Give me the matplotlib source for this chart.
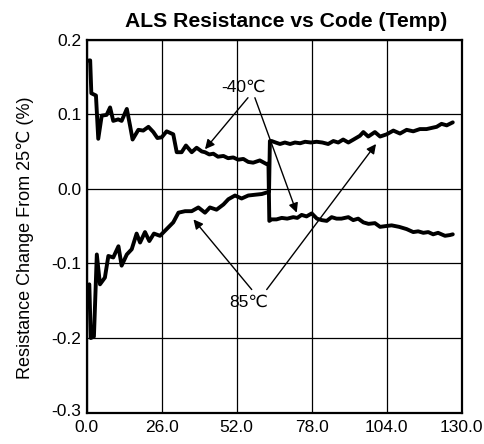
import matplotlib
matplotlib.use("Agg")
import matplotlib.pyplot as plt
import matplotlib.transforms as mtransforms

plt.rcParams['font.family'] = ['Liberation Sans', 'DejaVu Sans']

# -40C curve (top on left, bottom on right after x~63)
cold_x = [0.8, 1.2, 1.6, 3.2, 4.0, 5.2, 6.9, 8.1, 9.2, 10.9, 12.1, 13.9, 15.0, 15.9,
          17.9, 19.6, 21.4, 23.1, 24.5, 26.0, 27.7, 30.0, 31.2, 32.9, 34.4, 36.4, 38.1,
          39.9, 41.0, 42.5, 43.9, 45.5, 47.4, 49.0, 50.8, 52.5, 54.3, 56.0, 57.7, 60.0,
          62.4, 63.0, 63.3,
          64.1, 65.8, 67.6, 69.5, 71.6, 73.0, 74.5, 76.2, 78.0, 79.8, 81.5, 83.2, 84.9,
          86.6, 88.3, 90.7, 92.4, 94.1, 95.9, 97.7, 99.9, 101.7, 103.6, 105.7, 108.3,
          110.9, 113.2, 114.9, 116.7, 118.4, 120.1, 121.8, 124.2, 125.9, 126.9]
cold_y = [0.172, 0.172, 0.128, 0.125, 0.067, 0.098, 0.099, 0.109, 0.091, 0.093, 0.091,
          0.107, 0.085, 0.066, 0.079, 0.078, 0.083, 0.076, 0.068, 0.069, 0.077, 0.073,
          0.049, 0.049, 0.058, 0.049, 0.055, 0.050, 0.049, 0.046, 0.047, 0.043, 0.044,
          0.041, 0.042, 0.039, 0.040, 0.036, 0.035, 0.038, 0.033, 0.034, -0.043,
          -0.041, -0.041, -0.039, -0.040, -0.038, -0.039, -0.035, -0.037, -0.033, -0.040,
          -0.042, -0.043, -0.038, -0.040, -0.040, -0.038, -0.042, -0.040, -0.045, -0.047,
          -0.046, -0.051, -0.050, -0.049, -0.051, -0.054, -0.058, -0.057, -0.059, -0.058,
          -0.061, -0.059, -0.063, -0.062, -0.061]

# 85C curve (bottom on left, top on right after x~63)
hot_x = [0.9, 1.4, 2.5, 3.5, 4.6, 6.3, 7.5, 9.2, 11.0, 12.1, 13.9, 15.6, 17.3, 18.5,
         20.2, 21.7, 23.3, 25.4, 27.7, 30.0, 31.8, 34.1, 36.4, 38.7, 41.0, 42.7, 45.0,
         47.4, 49.1, 51.4, 53.7, 56.0, 58.3, 60.7, 62.4, 63.2, 63.5,
         64.1, 65.5, 67.0, 68.7, 70.5, 72.2, 74.0, 75.7, 77.7, 79.7, 81.7, 83.7, 85.5,
         87.2, 88.9, 90.7, 92.5, 94.7, 95.9, 97.6, 99.9, 101.7, 104.0, 106.3, 108.6,
         110.9, 113.2, 115.5, 117.8, 120.1, 121.3, 123.0, 124.8, 126.9]
hot_y = [-0.128, -0.200, -0.198, -0.088, -0.128, -0.119, -0.090, -0.092, -0.077, -0.103,
         -0.088, -0.081, -0.060, -0.072, -0.058, -0.070, -0.060, -0.063, -0.054, -0.045,
         -0.032, -0.030, -0.030, -0.025, -0.032, -0.025, -0.028, -0.021, -0.014, -0.009,
         -0.013, -0.009, -0.008, -0.007, -0.005, -0.004, 0.064,
         0.064, 0.062, 0.060, 0.062, 0.060, 0.062, 0.061, 0.063, 0.062, 0.063, 0.062,
         0.060, 0.064, 0.062, 0.066, 0.062, 0.066, 0.071, 0.076, 0.070, 0.076, 0.070,
         0.073, 0.078, 0.074, 0.079, 0.077, 0.080, 0.080, 0.082, 0.083, 0.087, 0.085,
         0.089]

x_ticks = [0, 26, 52, 78, 104, 130]
x_labels = ["0.0", "26.0", "52.0", "78.0", "104.0", "130.0"]
y_ticks = [-0.3, -0.2, -0.1, 0.0, 0.1, 0.2]
y_labels = ["-0.3", "-0.2", "-0.1", "0.0", "0.1", "0.2"]

fig = plt.figure(figsize=(4.85, 4.44), dpi=100)
ax = fig.add_axes([0.1788, 0.0705, 0.7732, 0.8405])

ax.plot(cold_x, cold_y, color='black', lw=2.8, solid_joinstyle='round', solid_capstyle='round')
ax.plot(hot_x, hot_y, color='black', lw=2.8, solid_joinstyle='round', solid_capstyle='round')

ax.set_xlim(0, 130)
ax.set_ylim(-0.3, 0.2)
ax.set_xticks(x_ticks)
ax.set_xticklabels(x_labels)
ax.set_yticks(y_ticks)
ax.set_yticklabels(y_labels)
ax.tick_params(length=0, labelsize=12.5)
ax.tick_params(axis='x', pad=5)
ax.tick_params(axis='y', pad=4)
ax.grid(True, color='black', lw=0.9)
ax.set_axisbelow(True)
for s in ax.spines.values():
    s.set_linewidth(1.6)

# nudge the bottom y tick label up slightly so it does not collide with "0.0"
ylabs = ax.get_yticklabels()
ylabs[0].set_transform(ylabs[0].get_transform() +
                       mtransforms.ScaledTranslation(0, 3 / 100, fig.dpi_scale_trans))

ax.set_ylabel("Resistance Change From 25℃ (%)", fontsize=13)
ax.yaxis.set_label_coords(-0.14, 0.468)
ax.set_title("ALS Resistance vs Code (Temp)", fontsize=15.2, fontweight='bold', pad=9, x=0.531)

ap = dict(arrowstyle='-|>', color='black', lw=1.0, mutation_scale=14, shrinkA=0, shrinkB=0)
ax.text(54.2, 0.1355, "-40℃", fontsize=12.5, ha='center', va='center')
ax.annotate("", xy=(41.0, 0.053), xytext=(55.9, 0.122), arrowprops=ap)
ax.annotate("", xy=(72.8, -0.032), xytext=(58.3, 0.122), arrowprops=ap)
ax.text(56.3, -0.152, "85℃", fontsize=12.5, ha='center', va='center')
ax.annotate("", xy=(37.0, -0.041), xytext=(57.2, -0.135), arrowprops=ap)
ax.annotate("", xy=(100.3, 0.060), xytext=(62.4, -0.135), arrowprops=ap)

fig.savefig("out.png", dpi=100)
